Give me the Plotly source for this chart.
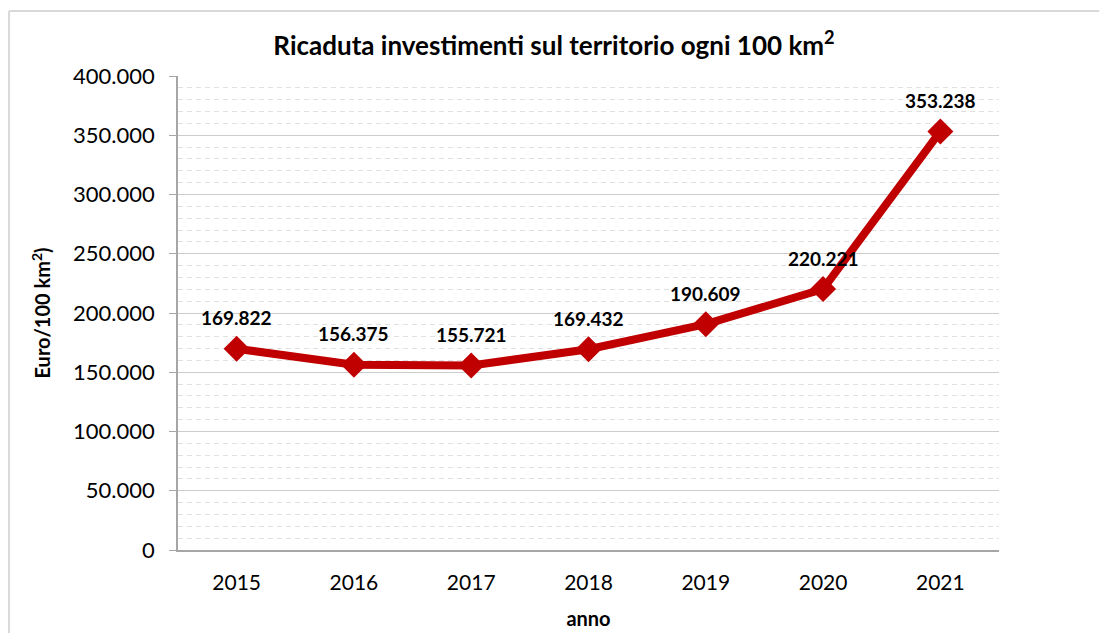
import plotly.graph_objs as go

anni = ['2015', '2016', '2017', '2018', '2019', '2020', '2021']
ricaduta = [169822, 156375, 155721, 169432, 190609, 220221, 353238]
etichette = ['169.822', '156.375', '155.721', '169.432', '190.609', '220.221', '353.238']

ROSSO = '#C00000'
FONT = 'Lato'
BORDO = '#d9d9d9'

fig = go.Figure()
fig.add_scatter(x=anni, y=ricaduta, mode='lines+markers',
                line=dict(color=ROSSO, width=8),
                marker=dict(symbol='diamond', size=20, color=ROSSO),
                showlegend=False, hoverinfo='skip')

# etichette dati sopra i punti (indice di categoria)
for i, (v, t) in enumerate(zip(ricaduta, etichette)):
    fig.add_annotation(x=i, y=v, xref='x', yref='y', text='<b>' + t + '</b>',
                       showarrow=False, yshift=31,
                       font=dict(family=FONT, size=19, color='#000000'))

# bordo del grafico (stile Excel): solo lato sinistro e superiore visibili
fig.add_shape(type='line', xref='paper', yref='paper', x0=-0.2058, x1=-0.2058, y0=-0.2, y1=1.137,
              line=dict(color=BORDO, width=2), layer='below')
fig.add_shape(type='line', xref='paper', yref='paper', x0=-0.2058, x1=1.122, y0=1.137, y1=1.137,
              line=dict(color=BORDO, width=2), layer='below')

fig.update_layout(
    width=1092, height=625,
    margin=dict(l=170, r=101, t=68, b=83),
    paper_bgcolor='white', plot_bgcolor='white',
    separators=',.',
    font=dict(family=FONT, color='#000000'),
    title=dict(text='<b>Ricaduta investimenti sul territorio ogni 100 km<sup>2</sup></b>',
               x=0.5, xanchor='center', y=0.94, yanchor='middle',
               font=dict(family=FONT, size=26, color='#000000')),
)
fig.update_xaxes(type='category', range=[-0.5, 6.5], showgrid=False, automargin=False,
                 showline=True, linecolor='#a6a6a6', linewidth=1.5, ticks='',
                 tickfont=dict(size=21), ticklabelstandoff=13,
                 title=dict(text='<b>anno</b>', font=dict(size=20), standoff=19))
fig.update_yaxes(range=[0, 400000], dtick=50000, tickformat=',.0f', automargin=False,
                 showline=True, linecolor='#a6a6a6', linewidth=1.5,
                 ticks='outside', ticklen=7, tickcolor='#a6a6a6',
                 showgrid=True, gridcolor='#cccccc', gridwidth=1, zeroline=False,
                 minor=dict(dtick=10000, showgrid=True, gridcolor='#e0e0e0', griddash='5px,4px', gridwidth=1),
                 tickfont=dict(size=22), ticklabelstandoff=10,
                 title=dict(text='<b>Euro/100 km<sup>2</sup>)</b>', font=dict(size=20), standoff=17))

fig.write_html('out.html')
